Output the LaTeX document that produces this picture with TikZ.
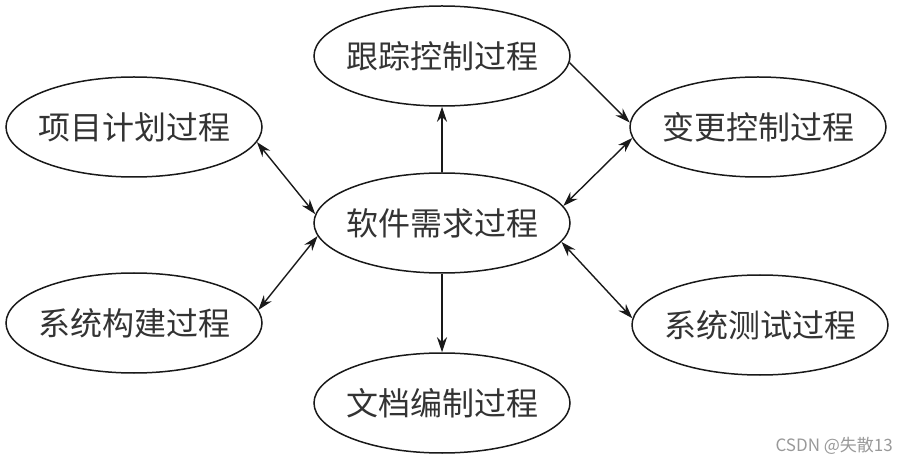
\documentclass[tikz,border=0pt]{standalone}
\usepackage{fontspec}
\newfontfamily\cjk{Noto Sans CJK SC}
\usetikzlibrary{shapes.geometric,arrows.meta}
\newcommand\proctext[1]{\makebox[170pt][c]{#1}}
\begin{document}
\begin{tikzpicture}[x=1pt,y=-1pt,
  proc/.style={ellipse, draw=black!90, line width=1.5pt, minimum width=256pt, minimum height=100pt, inner sep=0pt, font=\cjk\fontsize{32}{32}\selectfont, text=black!80},
  conn/.style={line width=1.4pt, draw=black!90, -{Stealth[length=15pt,width=10pt]}},
  biconn/.style={line width=1.4pt, draw=black!90, {Stealth[length=15pt,width=10pt]}-{Stealth[length=15pt,width=10pt]}},
  wmark/.style={font=\cjk\fontsize{17}{17}\selectfont, text=black!40, anchor=east, inner sep=0pt}]
\useasboundingbox (0,0) rectangle (897,462);
\node[proc] (gz) at (442,56) {\proctext{跟踪控制过程}};
\node[proc] (xm) at (134,127) {\proctext{项目计划过程}};
\node[proc] (bg) at (758,127) {\proctext{变更控制过程}};
\node[proc] (rj) at (442,223) {\proctext{软件需求过程}};
\node[proc] (gj) at (134,323) {\proctext{系统构建过程}};
\node[proc] (cs) at (760,325) {\proctext{系统测试过程}};
\node[proc] (wd) at (442,403) {\proctext{文档编制过程}};
\node[wmark] (wm) at (893,446) {CSDN @失散13};
\draw[conn] (rj.north) -- (gz.south);
\draw[conn] (rj.south) -- (wd.north);
\draw[conn] (gz.-3) -- (bg.178);
\draw[biconn] (xm.-7.5) -- (rj.176);
\draw[biconn] (gj.6) -- (rj.-174);
\draw[biconn] (bg.185) -- (rj.8);
\draw[biconn] (cs.177) -- (rj.-9);
\end{tikzpicture}
\end{document}
